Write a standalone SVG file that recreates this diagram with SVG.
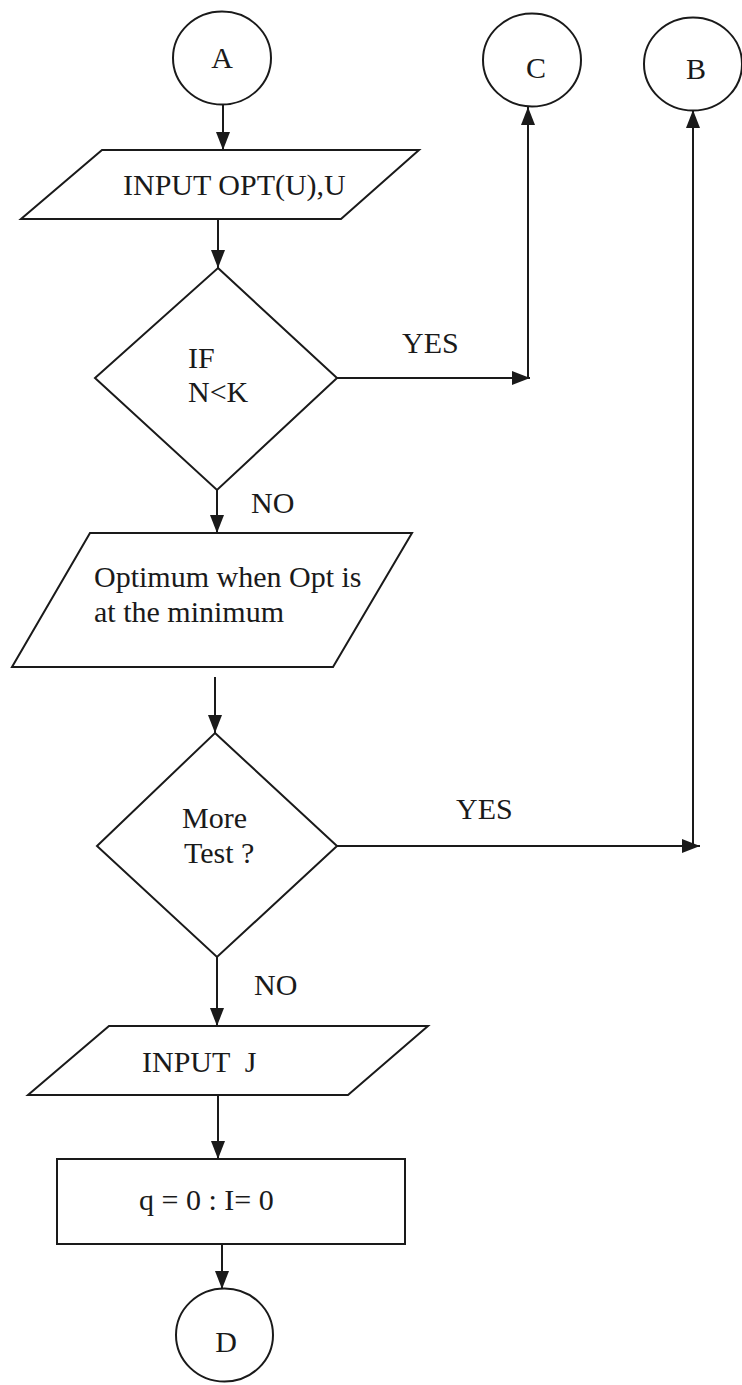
<svg xmlns="http://www.w3.org/2000/svg" width="742" height="1385" viewBox="0 0 742 1385">
<defs>
<style>
.s{fill:#fff;stroke:#1a1a1a;stroke-width:2}
.c{fill:none;stroke:#1a1a1a;stroke-width:2}
text{font-family:"Liberation Serif","Times New Roman",serif;font-size:30px;fill:#1a1a1a}
.m{text-anchor:middle}
</style>
<marker id="ah" markerUnits="userSpaceOnUse" markerWidth="20" markerHeight="20" viewBox="0 0 20 20" refX="19" refY="10" orient="auto">
<path d="M1,3 L19,10 L1,17 Z" fill="#1a1a1a"/>
</marker>
</defs>
<rect width="742" height="1385" fill="#fff"/>
<g id="connectors">
<path class="c" d="M223,105 V150" marker-end="url(#ah)"/>
<path class="c" d="M218,219 V268" marker-end="url(#ah)"/>
<path class="c" d="M337,378 H530" marker-end="url(#ah)"/>
<path class="c" d="M528,378 V107" marker-end="url(#ah)"/>
<path class="c" d="M217,490 V533" marker-end="url(#ah)"/>
<path class="c" d="M215,677 V733" marker-end="url(#ah)"/>
<path class="c" d="M337,846 H700" marker-end="url(#ah)"/>
<path class="c" d="M693,846 V110" marker-end="url(#ah)"/>
<path class="c" d="M217,957 V1026" marker-end="url(#ah)"/>
<path class="c" d="M218,1095 V1159" marker-end="url(#ah)"/>
<path class="c" d="M222,1244 V1289" marker-end="url(#ah)"/>
<text x="402" y="353">YES</text>
<text x="251" y="513">NO</text>
<text x="456" y="819">YES</text>
<text x="254" y="995">NO</text>
</g>
<g id="nodeA">
<ellipse class="s" cx="222" cy="58" rx="49" ry="46.5"/>
<text class="m" x="222" y="68">A</text>
</g>
<g id="nodeC">
<ellipse class="s" cx="532" cy="60" rx="49" ry="46.5"/>
<text class="m" x="536" y="78">C</text>
</g>
<g id="nodeB">
<ellipse class="s" cx="693" cy="64" rx="49" ry="46.5"/>
<text class="m" x="696" y="79">B</text>
</g>
<g id="inputOpt">
<polygon class="s" points="102,150 419,150 341,219 21,219"/>
<text x="123" y="195">INPUT OPT(U),U</text>
</g>
<g id="ifNK">
<polygon class="s" points="218,268 337,378 217,490 95,378"/>
<text x="188" y="368">IF</text>
<text x="188" y="402">N&lt;K</text>
</g>
<g id="optimum">
<polygon class="s" points="90,533 412,533 333,667 12,667"/>
<text x="94" y="587">Optimum when Opt is</text>
<text x="94" y="622">at the minimum</text>
</g>
<g id="moreTest">
<polygon class="s" points="215,733 337,846 217,957 97,846"/>
<text x="182" y="828">More</text>
<text x="184" y="863">Test ?</text>
</g>
<g id="inputJ">
<polygon class="s" points="109,1026 428,1026 348,1095 28,1095"/>
<text x="142" y="1072" xml:space="preserve">INPUT  J</text>
</g>
<g id="init">
<rect class="s" x="57" y="1159" width="348" height="85"/>
<text x="139" y="1210">q = 0 : I= 0</text>
</g>
<g id="nodeD">
<ellipse class="s" cx="224.5" cy="1335" rx="48.5" ry="46.5"/>
<text class="m" x="226" y="1352">D</text>
</g>
</svg>
